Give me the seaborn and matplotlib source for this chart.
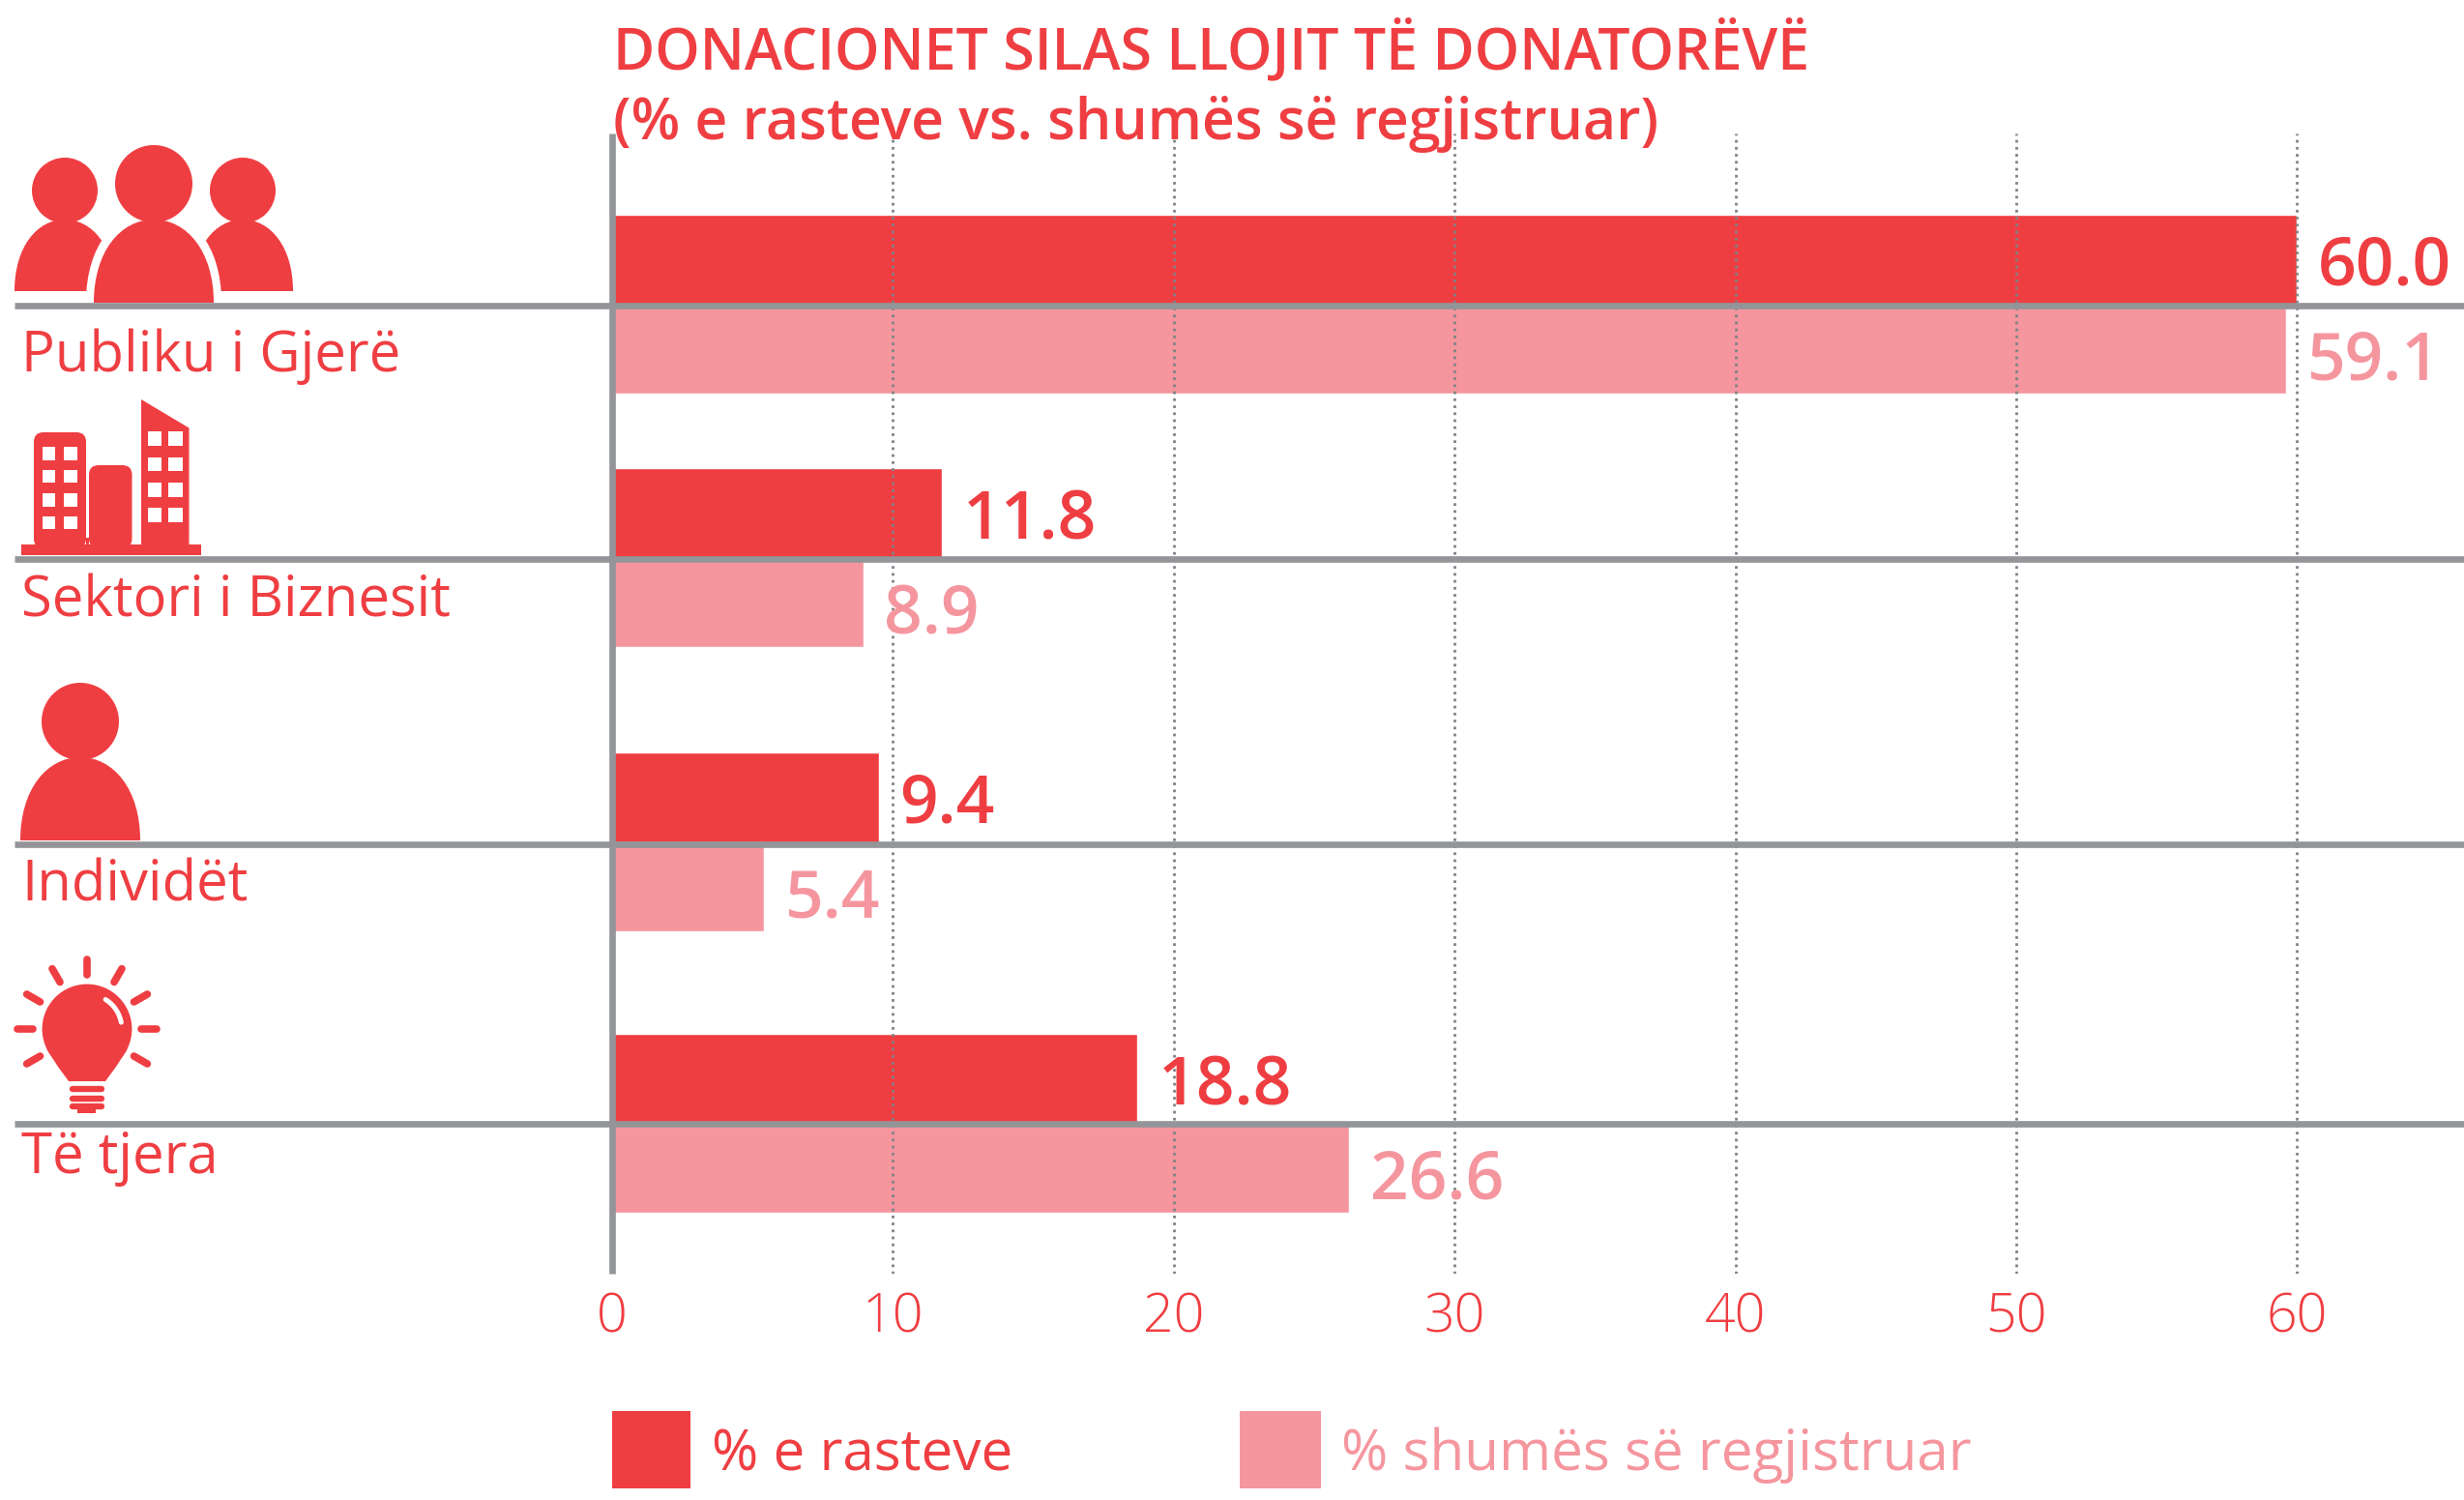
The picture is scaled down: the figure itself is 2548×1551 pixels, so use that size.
import numpy as np
import pandas as pd
import matplotlib
matplotlib.use("Agg")
import matplotlib.pyplot as plt
import matplotlib.patches as mpatches
from matplotlib.path import Path
import seaborn as sns

# ── DATA ──────────────────────────────────────────────────────────────────────
categories = ["Publiku i Gjerë", "Sektori i Biznesit", "Individët", "Të tjera"]
# printed values
label_cases = [60.0, 11.8, 9.4, 18.8]
label_amount = [59.1, 8.9, 5.4, 26.6]
# bar lengths as measured on the axis (they differ a little from the printed values)
bar_cases = [60.0, 11.75, 9.5, 18.7]
bar_amount = [59.6, 8.95, 5.4, 26.25]
series_names = ["% e rasteve", "% shumës së regjistruar"]
x_ticks = [0, 10, 20, 30, 40, 50, 60]
title_lines = ["DONACIONET SILAS LLOJIT TË DONATORËVË",
               "(% e rasteve vs. shumës së regjistruar)"]

# ── LAYOUT (pixels of the 2548x1551 canvas) ───────────────────────────────────
W, H = 2548, 1551
RED = "#EF3E42"
PINK = "#F5969F"
GREY = "#939598"
group_y = [314.5, 576.5, 870.5, 1161.5]
rule_y = [316, 578, 872.5, 1162]
ax_left, ax_top, ax_bottom = 633, 138, 1317
px_per_unit = 29.04

sns.set_theme(style="white")
plt.rcParams["font.family"] = ["Open Sans", "DejaVu Sans"]

fig = plt.figure(figsize=(W / 100, H / 100), dpi=100, facecolor="white")
ax = fig.add_axes([ax_left / W, 1 - ax_bottom / H, (W - ax_left) / W,
                   (ax_bottom - ax_top) / H])

df = pd.DataFrame({
    "y": group_y * 2,
    "value": bar_cases + bar_amount,
    "series": [series_names[0]] * 4 + [series_names[1]] * 4,
})
sns.barplot(data=df, x="value", y="y", hue="series", hue_order=series_names,
            palette=[RED, PINK], orient="y", native_scale=True, dodge=True,
            width=0.706, gap=0, saturation=1, legend=False, ax=ax, zorder=2)

ax.set_xlim(0, (W - ax_left) / px_per_unit)
ax.set_ylim(ax_bottom, ax_top)
ax.set_xlabel("")
ax.set_ylabel("")
ax.set_yticks([])
ax.set_xticks(x_ticks)
ax.set_xticklabels([str(t) for t in x_ticks])
ax.tick_params(axis="x", length=0, pad=13, labelsize=40, labelcolor=RED)
for lab in ax.get_xticklabels():
    lab.set_fontweight(300)
ax.patch.set_alpha(0)
for s in ["top", "right", "bottom"]:
    ax.spines[s].set_visible(False)
ax.spines["left"].set_color(GREY)
ax.spines["left"].set_linewidth(4.8)
ax.spines["left"].set_capstyle("butt")
ax.spines["left"].set_zorder(5)

# dotted gridlines
for t in x_ticks[1:]:
    ax.axvline(t, color="#808285", lw=2, ls=(0, (1, 1.6)), zorder=3)

# value labels
for i, y in enumerate(group_y):
    ax.text(bar_cases[i] + 0.74, y - 46, f"{label_cases[i]:.1f}", color=RED, fontsize=50,
            fontweight=600, va="center_baseline", ha="left", zorder=6)
    ax.text(bar_amount[i] + 0.74, y + 52, f"{label_amount[i]:.1f}", color=PINK, fontsize=50,
            fontweight=600, va="center_baseline", ha="left", zorder=6)

# ── OVERLAY IN CANVAS PIXELS ──────────────────────────────────────────────────
ov = fig.add_axes([0, 0, 1, 1], zorder=10)
ov.set_xlim(0, W)
ov.set_ylim(H, 0)
ov.axis("off")

# row rules
for y in rule_y:
    ov.plot([15, W], [y, y], color=GREY, lw=4.8, solid_capstyle="butt", zorder=1)

# title
ov.text(634, 53, title_lines[0], color=RED, fontsize=42.5, fontweight=600, va="center")
ov.text(634, 128, title_lines[1], color=RED, fontsize=42.4, fontweight=600, va="center")

# category labels
label_pos = [(22, 369), (22, 622), (22, 916), (22, 1198)]
for name, (lx, ly) in zip(categories, label_pos):
    ov.text(lx, ly, name, color=RED, fontsize=41.8, fontweight=400, va="center")

# legend
ov.add_patch(mpatches.Rectangle((633, 1459), 81, 80, color=RED, lw=0))
ov.text(736, 1505, series_names[0], color=RED, fontsize=42.1, va="center")
ov.add_patch(mpatches.Rectangle((1282, 1459), 84, 80, color=PINK, lw=0))
ov.text(1387, 1505, series_names[1], color=PINK, fontsize=42.1, va="center")


# ── ICONS ─────────────────────────────────────────────────────────────────────
def body(cx, base, half_w, top, color=RED, z=3):
    h = base - top
    verts = [(cx - half_w, base),
             (cx - half_w, base - h * 0.62), (cx - half_w * 0.55, top), (cx, top),
             (cx + half_w * 0.55, top), (cx + half_w, base - h * 0.62), (cx + half_w, base),
             (cx - half_w, base)]
    codes = [Path.MOVETO, Path.CURVE4, Path.CURVE4, Path.CURVE4,
             Path.CURVE4, Path.CURVE4, Path.CURVE4, Path.CLOSEPOLY]
    return mpatches.PathPatch(Path(verts, codes), facecolor=color, edgecolor=color, lw=0, zorder=z)


def rect(x0, y0, x1, y1, color=RED, z=3):
    ov.add_patch(mpatches.Rectangle((x0, y0), x1 - x0, y1 - y0, color=color, lw=0, zorder=z))


# three people
for cx in [67, 251]:
    ov.add_patch(mpatches.Circle((cx, 197), 34, color=RED, lw=0, zorder=3))
    ov.add_patch(body(cx, 301, 52, 227))
ov.add_patch(body(159, 312, 70, 217, color="white", z=2))
ov.add_patch(mpatches.Circle((159, 190), 40, color=RED, lw=0, zorder=5))
ov.add_patch(body(159, 313, 62, 227, z=5))
# the halo has to cut the two side figures, so it is redrawn above them
ov.add_patch(body(159, 312, 70, 217, color="white", z=4))

# buildings
rect(21.5, 563, 207.5, 574)
ov.add_patch(mpatches.FancyBboxPatch((35, 447), 54, 120, boxstyle="round,pad=0,rounding_size=10",
                                     color=RED, lw=0, zorder=3))
ov.add_patch(mpatches.FancyBboxPatch((92, 481), 44.5, 86, boxstyle="round,pad=0,rounding_size=10",
                                     color=RED, lw=0, zorder=3))
rect(89, 556, 92, 567)
ov.add_patch(mpatches.Polygon([(146, 570), (146, 413), (195.5, 442.5), (195.5, 570)],
                              closed=True, color=RED, lw=0, zorder=3))
for y0, y1 in [(462, 476), (486, 499), (510, 523.5), (533.5, 547)]:
    rect(43.7, y0, 57, y1, color="white", z=4)
    rect(66, y0, 79.5, y1, color="white", z=4)
for y0, y1 in [(446, 461), (472.5, 487), (499, 514), (525, 540)]:
    rect(152.7, y0, 167.4, y1, color="white", z=4)
    rect(174, y0, 189, y1, color="white", z=4)

# person
ov.add_patch(mpatches.Circle((83, 746), 40, color=RED, lw=0, zorder=3))
ov.add_patch(body(83, 869, 62, 783))

# light bulb
cx, cy = 90, 1064
ov.add_patch(mpatches.Circle((cx, cy), 46.4, color=RED, lw=0, zorder=3))
ov.add_patch(mpatches.Polygon([(43.7, 1066), (49, 1086), (60, 1103), (71, 1118),
                               (109, 1118), (120, 1103), (131, 1086), (136.3, 1066)],
                              closed=True, color=RED, lw=0, zorder=3))
for by in [1126, 1135.5, 1144]:
    ov.plot([cx - 15, cx + 15], [by, by], color=RED, lw=4.6, solid_capstyle="round", zorder=3)
rect(80, 1146, 99, 1151)
for ang in [-150, -120, -90, -60, -30, 0, 30, 180, 150]:
    a = np.deg2rad(ang)
    ov.plot([cx + 56 * np.cos(a), cx + 72 * np.cos(a)],
            [cy + 56 * np.sin(a), cy + 72 * np.sin(a)],
            color=RED, lw=5.5, solid_capstyle="round", zorder=3)
a = np.deg2rad(np.linspace(-58, -11, 20))
ov.plot(cx + 36 * np.cos(a), cy + 36 * np.sin(a), color="white", lw=3.6,
        solid_capstyle="round", zorder=4)

fig.savefig("out.png", dpi=100, facecolor="white")
